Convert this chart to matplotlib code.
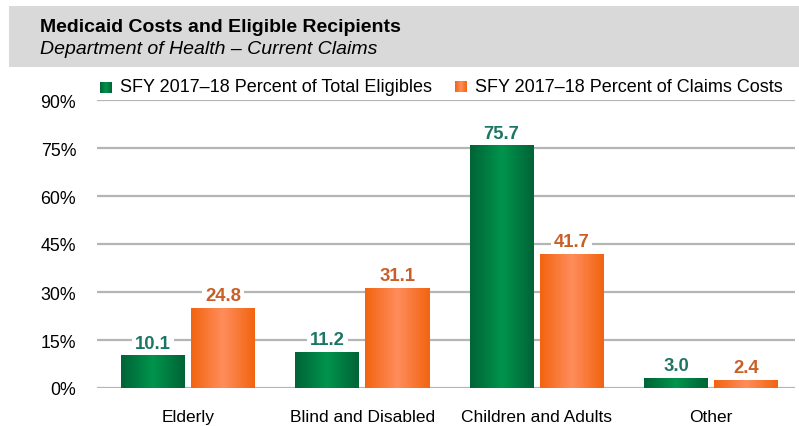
import numpy as np
import matplotlib.pyplot as plt
from matplotlib.colors import LinearSegmentedColormap
from matplotlib.patches import Rectangle

plt.rcParams['font.family'] = ['Liberation Sans', 'DejaVu Sans']

title = "Medicaid Costs and Eligible Recipients"
subtitle = "Department of Health \u2013 Current Claims"
categories = ["Elderly", "Blind and Disabled", "Children and Adults", "Other"]
series_names = ["SFY 2017\u201318 Percent of Total Eligibles",
                "SFY 2017\u201318 Percent of Claims Costs"]
eligibles = [10.1, 11.2, 75.7, 3.0]
claims_costs = [24.8, 31.1, 41.7, 2.4]
y_ticks = [0, 15, 30, 45, 60, 75, 90]

green_cmap = LinearSegmentedColormap.from_list(
    "green_bar", ["#006437", "#00944c", "#006437"])
orange_cmap = LinearSegmentedColormap.from_list(
    "orange_bar", ["#f26410", "#ff8d5c", "#f26410"])
green_label = "#1d7565"
orange_label = "#c95f27"

W, H = 799, 427
fig = plt.figure(figsize=(W / 100, H / 100), dpi=100)


def fx(px):
    return px / W


def fy(py):
    return 1 - py / H


# Header band
fig.patches.append(Rectangle((fx(9), fy(68)), fx(790), (68 - 7) / H,
                             transform=fig.transFigure, facecolor="#d9d9d9",
                             edgecolor="none", zorder=0))
fig.text(fx(40), fy(28), title, fontsize=14, fontweight="bold",
         va="center", ha="left", color="black")
fig.text(fx(40), fy(50), subtitle, fontsize=14, fontstyle="italic",
         va="center", ha="left", color="black")

# Main axes
ax_left, ax_right = 97, 795
ax_top, ax_bottom = 101, 389
ax = fig.add_axes([fx(ax_left), fy(ax_bottom), fx(ax_right - ax_left),
                   (ax_bottom - ax_top) / H])
px_per_unit = (711 - 188) / 3
xlim = ((ax_left - 188) / px_per_unit, (ax_right - 188) / px_per_unit)

grad = np.linspace(0, 1, 64).reshape(1, -1)
bar_w = 64 / px_per_unit
offset = 35 / px_per_unit
x = np.arange(len(categories))

for vals, cmap, dx, lab_color in [(eligibles, green_cmap, -offset, green_label),
                                  (claims_costs, orange_cmap, offset, orange_label)]:
    for xi, v in zip(x, vals):
        x0 = xi + dx - bar_w / 2
        ax.imshow(grad, cmap=cmap, extent=(x0, x0 + bar_w, 0, v),
                  aspect="auto", zorder=3, interpolation="bilinear")
        ax.annotate(f"{v:.1f}", (xi + dx, v), xytext=(0, 3),
                    textcoords="offset points", ha="center", va="bottom",
                    fontsize=13.3, fontweight="bold", color=lab_color,
                    zorder=4,
                    bbox=dict(boxstyle="square,pad=0.15", fc="white",
                              ec="none"))

ax.set_xlim(*xlim)
ax.set_ylim(0, 90)
ax.set_yticks(y_ticks)
ax.set_yticklabels([f"{t}%" for t in y_ticks], fontsize=12.8)
ax.set_xticks(x)
ax.set_xticklabels(categories, fontsize=12.5)
ax.tick_params(axis="both", length=0)
ax.tick_params(axis="y", pad=15)
ax.tick_params(axis="x", pad=15)
ax.yaxis.grid(True, color="#b5b5b5", linewidth=1.6, zorder=1)
ax.set_axisbelow(True)
for s in ax.spines.values():
    s.set_visible(False)

# Legend
for (sx, sy, tx), cmap, name in [((100, 83, 120), green_cmap, series_names[0]),
                                 ((455, 82, 475), orange_cmap, series_names[1])]:
    sw = fig.add_axes([fx(sx), fy(sy + 11), fx(12), 11 / H])
    sw.imshow(grad, cmap=cmap, aspect="auto", interpolation="bilinear")
    sw.axis("off")
    fig.text(fx(tx), fy(88), name, fontsize=13, va="center", ha="left")

fig.savefig("out.png", dpi=100)
